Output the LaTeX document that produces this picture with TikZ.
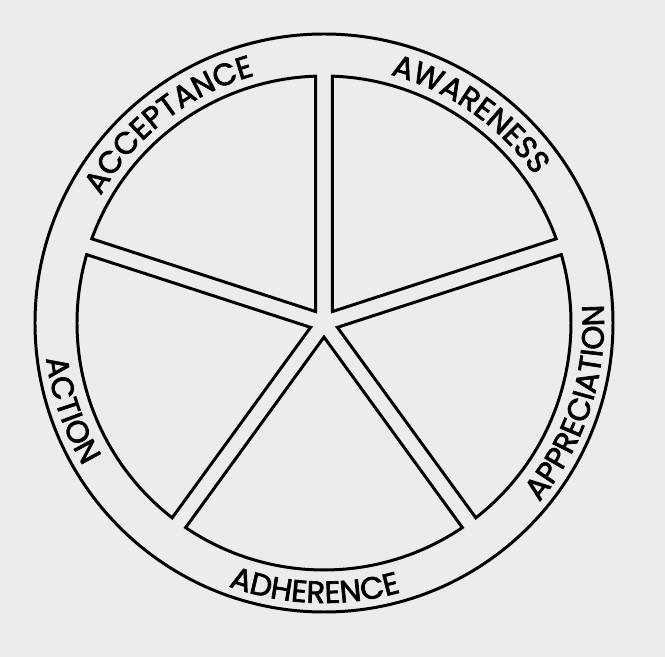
\documentclass[tikz,border=0pt]{standalone}
\usepackage{fontspec}
\newfontfamily\wheelfont{Poppins}[FakeBold=2.2]
\usetikzlibrary{decorations.text}
\definecolor{paper}{RGB}{236,236,236}
\newcommand{\wheeltext}{\wheelfont\fontsize{17.5pt}{18pt}\selectfont}

\begin{document}
\begin{tikzpicture}[scale=0.02]
	\tikzstyle{rim}=[draw=black, line width=1.7pt]
	\tikzstyle{wedge}=[draw=black, line width=1.7pt, line join=miter]
	\tikzstyle{ringlabel}=[decorate, decoration={text along path, text align=center}]
	\path[use as bounding box, fill=paper] (-324,-334) rectangle (341,323);

	% outer ring
	\draw[rim] (0,0) circle[radius=289];

	% five wedges
	\begin{scope}
		\draw[wedge] (54:14.1) -- (19.93:247) arc[start angle=19.93, end angle=88.07, radius=247] -- cycle;
		\draw[wedge] (126:14.1) -- (91.93:247) arc[start angle=91.93, end angle=160.07, radius=247] -- cycle;
		\draw[wedge] (198:14.1) -- (163.93:247) arc[start angle=163.93, end angle=232.07, radius=247] -- cycle;
		\draw[wedge] (270:14.1) -- (235.93:247) arc[start angle=235.93, end angle=304.07, radius=247] -- cycle;
		\draw[wedge] (-18:14.1) -- (-52.07:247) arc[start angle=-52.07, end angle=16.07, radius=247] -- cycle;
	\end{scope}

	% labels round the ring
	\path[ringlabel, decoration={text={|\wheeltext|ACCEPTANCE}}] (163:257) arc[start angle=163, end angle=93, radius=257];
	\path[ringlabel, decoration={text={|\wheeltext|AWARENESS}}] (90:257) arc[start angle=90, end angle=20, radius=257];
	\path[ringlabel, decoration={text={|\wheeltext|APPRECIATION}}] (-53:280) arc[start angle=-53, end angle=17, radius=280];
	\path[ringlabel, decoration={text={|\wheeltext|ADHERENCE}}] (233:280) arc[start angle=233, end angle=303, radius=280];
	\path[ringlabel, decoration={text={|\wheeltext|ACTION}}] (164:280) arc[start angle=164, end angle=234, radius=280];
\end{tikzpicture}
\end{document}
